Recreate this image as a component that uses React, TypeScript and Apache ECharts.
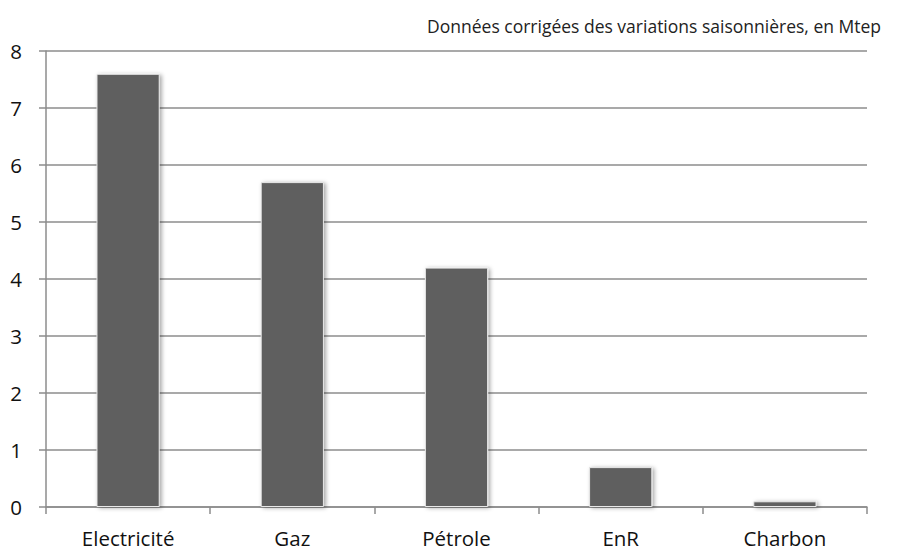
import React, { useEffect, useRef } from "react";
import * as echarts from "echarts";

const categories = ["Electricité", "Gaz", "Pétrole", "EnR", "Charbon"];
const values = [7.6, 5.7, 4.2, 0.7, 0.1];
const subtitle = "Données corrigées des variations saisonnières, en Mtep";

export default function App() {
  const ref = useRef<HTMLDivElement>(null);
  useEffect(() => {
    const chart = echarts.init(ref.current!, null, { renderer: "svg" });
    chart.setOption({
      animation: false,
      backgroundColor: "#ffffff",
      title: {
        text: subtitle,
        right: 13,
        top: 12,
        textStyle: { fontFamily: "Open Sans", fontSize: 17.5, fontWeight: "normal", color: "#222" },
      },
      grid: { left: 46, right: 32, top: 51, bottom: 43 },
      xAxis: {
        type: "category",
        data: categories,
        axisLine: { lineStyle: { color: "#8c8c8c", width: 1.5 } },
        axisTick: { show: true, length: 7, alignWithLabel: false, lineStyle: { color: "#8c8c8c", width: 1.5 } },
        axisLabel: { fontFamily: "Open Sans", fontSize: 20.5, color: "#111", margin: 20 },
      },
      yAxis: {
        type: "value",
        min: 0,
        max: 8,
        interval: 1,
        axisLine: { show: true, lineStyle: { color: "#8c8c8c", width: 1.5 } },
        axisTick: { show: true, length: 7, lineStyle: { color: "#8c8c8c", width: 1.5 } },
        splitLine: { lineStyle: { color: "#8c8c8c", width: 1.5 } },
        axisLabel: { fontFamily: "Open Sans", fontSize: 20.5, color: "#111", margin: 24 },
      },
      series: [
        {
          type: "bar",
          data: values,
          barWidth: "38.5%",
          itemStyle: {
            color: "#5f5f5f",
            borderColor: "#e8e8e8",
            borderWidth: 1,
            shadowColor: "rgba(0,0,0,0.35)",
            shadowBlur: 4,
            shadowOffsetX: 2,
            shadowOffsetY: 1,
          },
        },
      ],
    });
    return () => chart.dispose();
  }, []);
  return <div ref={ref} style={{ width: 899, height: 550, position: "absolute", left: 0, top: 0 }} />;
}
